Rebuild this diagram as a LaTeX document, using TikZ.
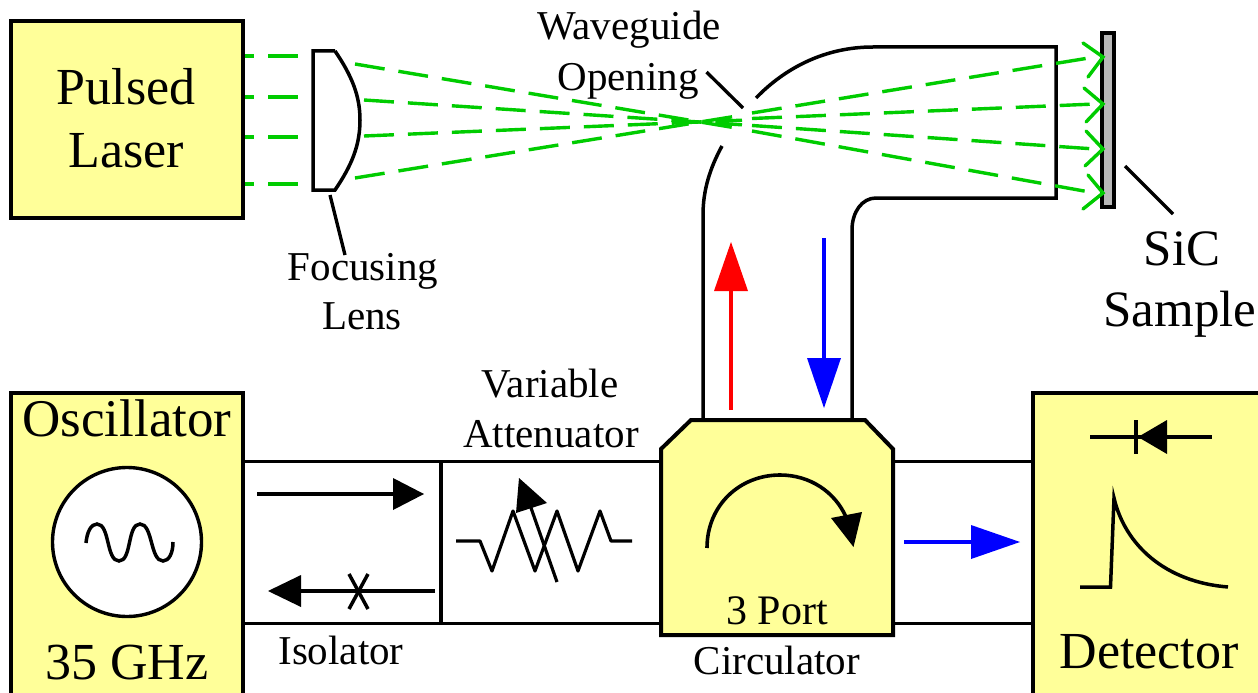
\documentclass[tikz,border=0pt]{standalone}
\usepackage{fontspec}
\setmainfont{Liberation Serif}
\definecolor{boxyellow}{HTML}{FFFF99}
\definecolor{beamgreen}{HTML}{00CC00}
\definecolor{samplegray}{HTML}{B8B8B8}
\tikzset{
  px/.style={x=1pt,y=-1pt},
  wall/.style={draw=black,line width=3.5pt},
  thin wall/.style={draw=black,line width=3.3pt},
  yellowbox/.style={draw=black,line width=4pt,fill=boxyellow,line join=miter},
  small/.style={font=\fontsize{41}{41}\selectfont,inner sep=0pt,anchor=base},
  big/.style={font=\fontsize{52}{52}\selectfont,inner sep=0pt,anchor=base},
  beam/.style={draw=beamgreen,line width=3.4pt,dash pattern=on 30pt off 14pt},
  solidbeam/.style={draw=beamgreen,line width=3.4pt,line cap=round,line join=miter},
}
\begin{document}
\begin{tikzpicture}[px]
\useasboundingbox (0,0) rectangle (1258,693);
\fill[white] (0,0) rectangle (1258,693);
\begin{scope}
\clip (0,0) rectangle (1258,693);
% transmission lines
\coordinate (lineTL) at (243,461.5);
\coordinate (lineTR) at (1033,461.5);
\coordinate (lineBL) at (243,623.5);
\coordinate (lineBR) at (1033,623.5);
\draw[thin wall] (lineTL) -- (lineTR);
\draw[thin wall] (lineBL) -- (lineBR);
\coordinate (divT) at (441,461.5);
\coordinate (divB) at (441,623.5);
\draw[thin wall] (divT) -- (divB);
% boxes
\draw[yellowbox] (11,21) rectangle (243,218);
\draw[yellowbox] (11,393) rectangle (243,710);
\draw[yellowbox] (1033,393) rectangle (1275,710);
% waveguide
\draw[wall] (703,420) -- (703,215) .. controls (703,190) and (710,168) .. (722,146);
\draw[wall] (756,98) .. controls (785,68) and (825,47) .. (873,47) -- (1056,47) -- (1056,198) -- (876,198) .. controls (862,198) and (852,212) .. (852,230) -- (852,420);
% circulator
\draw[yellowbox] (661,449) -- (691,420) -- (865,420) -- (893,449) -- (893,635) -- (661,635) -- cycle;
% lens
\draw[wall,line join=miter] (335,51) -- (313,51) -- (313,190) -- (335,190) .. controls (352,165) and (360,145) .. (360,120) .. controls (360,96) and (352,76) .. (335,51);
% sample
\draw[draw=black,line width=3.6pt,fill=samplegray] (1102,33) rectangle (1114,207);
% incoming beams
\foreach \yy in {56,97,137,184}{
  \draw[beam,dash phase=21pt] (245,\yy) -- (300,\yy);
}
% converging beams, all through the focus at (700,122)
\coordinate (f) at (700,122);
\foreach \xa/\ya/\xc/\yc/\xs/\ys/\xb/\yb in {
  355/64/742/129/752/113/1095/57,
  364/100/742/124.8/752/118.5/1095/104,
  364/136/742/120.2/752/125.5/1095/149,
  355/178/742/115.2/752/131/1095/193}{
  \draw[beam] (\xa,\ya) -- (\xc,\yc);
  \draw[beam] (\xs,\ys) -- (\xb,\yb);
}
% open arrowheads
\draw[solidbeam] (1083,43) -- (1103,57) -- (1088,77);
\draw[solidbeam] (1084,88) -- (1103,104) -- (1086,122);
\draw[solidbeam] (1086,131) -- (1103,149) -- (1085,166);
\draw[solidbeam] (1088,175) -- (1103,193) -- (1083,209);
% red, blue arrows
\draw[draw=red,line width=3.4pt] (731,410) -- (731,285);
\fill[red] (731,242) -- (748,291) -- (714,291) -- cycle;
\draw[draw=blue,line width=3.4pt] (824,238) -- (824,365);
\fill[blue] (824,408) -- (841,358) -- (807,358) -- cycle;
\draw[draw=blue,line width=3.4pt] (904,542) -- (975,542);
\fill[blue] (1020,542) -- (971,525) -- (971,559) -- cycle;
% isolator
\draw[wall] (257,494) -- (398,494);
\fill (424,494) -- (393,478) -- (393,510) -- cycle;
\draw[wall] (435,591) -- (296,591);
\fill (268,591) -- (301,575) -- (301,607) -- cycle;
\draw[wall] (349,574) -- (368,609);
\draw[wall] (368,574) -- (349,609);
% attenuator
\draw[draw=black,line width=3.2pt,line join=round] (456,541) -- (480,541) -- (492,571) -- (513,511) -- (535,571) -- (557,511) -- (578,571) -- (600,511) -- (611,541) -- (632,541);
\draw[draw=black,line width=3.2pt] (557,582) -- (530,505);
\fill (519,478) -- (547,503) -- (516,513) -- cycle;
% oscillator symbol
\node[draw=black,fill=white,line width=3.4pt,circle,minimum size=149pt,inner sep=0pt] (osc) at (127,542) {};
\draw[wall] (86,543) .. controls (87,532) and (91,524) .. (97,524) .. controls (110,524) and (106,561) .. (119,561) .. controls (132,561) and (127,524) .. (140,524) .. controls (153,524) and (150,561) .. (163,561) .. controls (169,561) and (173,553) .. (173,542);
% circulator arrow
\draw[draw=black,line width=3.6pt] (707,548) .. controls (707,505) and (740,475) .. (780,475) .. controls (810,475) and (835,492) .. (846,517);
\fill (862,512) -- (831,518) -- (853.5,547) -- cycle;
% detector
\draw[wall] (1090,437) -- (1212,437);
\draw[wall] (1136,420) -- (1136,454);
\fill (1138,437) -- (1167,420) -- (1167,454) -- cycle;
\draw[wall,line join=miter] (1080,587) -- (1110.5,587) -- (1114,498) .. controls (1125,545) and (1165,582) .. (1228,587);
% leaders
\coordinate (lensA) at (330,195);
\coordinate (lensB) at (345,255);
\draw[thin wall] (lensA) -- (lensB);
\coordinate (wgA) at (706.5,72);
\coordinate (wgB) at (743,108);
\draw[thin wall] (wgA) -- (wgB);
\coordinate (sicA) at (1125,166);
\coordinate (sicB) at (1173,214);
\draw[thin wall] (sicA) -- (sicB);
% text
\node[big] (tPulsed) at (126,104) {Pulsed};
\node[big] (tLaser) at (126,167) {Laser};
\node[big,font=\fontsize{53}{53}\selectfont] (tOsc) at (127,436) {Oscillator};
\node[big] (tGhz) at (127,679) {35 GHz};
\node[big] (tDet) at (1149,668) {Detector};
\node[big,font=\fontsize{51}{51}\selectfont] (tSic) at (1182,265) {SiC};
\node[big,font=\fontsize{51}{51}\selectfont] (tSam) at (1180,326) {Sample};
\node[small] (tWave) at (629,40) {Waveguide};
\node[small] (tOpen) at (628,90) {Opening};
\node[small] (tFoc) at (363,280) {Focusing};
\node[small] (tLens) at (362,329) {Lens};
\node[small] (tVar) at (550,397) {Variable};
\node[small] (tAtt) at (551,447) {Attenuator};
\node[small] (tIso) at (341,664) {Isolator};
\node[small,font=\fontsize{42}{42}\selectfont] (tPort) at (777,624) {3 Port};
\node[small] (tCirc) at (777,674) {Circulator};
\end{scope}
\end{tikzpicture}
\end{document}
